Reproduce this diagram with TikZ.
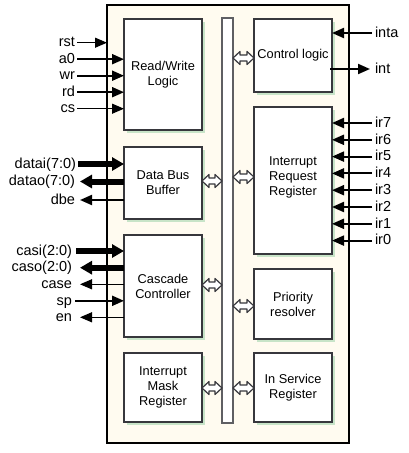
\documentclass[tikz,border=0pt]{standalone}
\usepackage{fontspec}
\setmainfont{Liberation Sans}
\usetikzlibrary{arrows.meta,shadows,calc}
\definecolor{cream}{RGB}{255,251,240}
\definecolor{shgreen}{RGB}{200,228,200}
\definecolor{boxline}{RGB}{55,55,60}
\newcommand{\dblarr}[3]{%
  \draw[busarr] let \p1=(#1 |- 0,#3), \p2=(#2 |- 0,#3) in
    (\x1,\y1) -- (\x1+7pt,\y1+6.5pt) -- (\x1+7pt,\y1+3pt) -- (\x2-7pt,\y1+3pt)
    -- (\x2-7pt,\y1+6.5pt) -- (\x2,\y1) -- (\x2-7pt,\y1-6.5pt) -- (\x2-7pt,\y1-3pt)
    -- (\x1+7pt,\y1-3pt) -- (\x1+7pt,\y1-6.5pt) -- cycle;}
\begin{document}
\begin{tikzpicture}[x=1pt,y=-1pt,
  blk/.style={draw=boxline, line width=1.2pt, fill=white, align=center,
    font=\fontsize{12.8}{15}\selectfont, inner sep=0pt, outer sep=0pt, anchor=north west,
    minimum width=78pt,
    drop shadow={shadow xshift=2.5pt, shadow yshift=-2.5pt, fill=shgreen, opacity=1}},
  lbl/.style={font=\fontsize{14.5}{16}\selectfont, inner sep=0pt, outer sep=0pt,
    text height=8.5pt, text depth=0pt},
  sig/.style={line width=2pt, -{Triangle[length=12pt,width=10pt]}},
  sigthin/.style={line width=1.2pt, -{Triangle[length=12pt,width=10pt]}},
  bussig/.style={line width=6pt, -{Triangle[length=12pt,width=13pt]}},
  busarr/.style={draw=boxline, line width=1.2pt, fill=white, line join=round}]
\useasboundingbox (0,0) rectangle (409,453);

% chip outline
\node[draw=black, line width=1.6pt, fill=cream, minimum width=242pt, minimum height=438pt,
  anchor=north west, inner sep=0pt, outer sep=0pt] (chip) at (107,5) {};

% internal bus
\node[draw=boxline!80, line width=1.1pt, fill=white, minimum width=11pt, minimum height=405pt,
  anchor=north west, inner sep=0pt, outer sep=0pt] (bus) at (222,18) {};

% blocks
\node[blk, minimum height=111pt] (rw)  at (124,19)  {Read/Write\\Logic};
\node[blk, minimum height=72pt]  (dbb) at (124,147) {Data Bus\\Buffer};
\node[blk, minimum height=102pt] (cc)  at (124,235) {Cascade\\Controller};
\node[blk, minimum height=69pt]  (imr) at (124,353) {Interrupt\\Mask\\Register};
\node[blk, minimum height=73pt]  (cl)  at (254,19)  {Control logic};
\node[blk, minimum height=147pt, inner ysep=0pt, text depth=9pt] (irr) at (254,107) {Interrupt\\Request\\Register};
\node[blk, minimum height=70pt]  (pr)  at (254,269) {Priority\\resolver};
\node[blk, minimum height=69pt]  (isr) at (254,353) {In Service\\Register};

% bus arrows
\dblarr{dbb.east}{bus.west}{181}
\dblarr{cc.east}{bus.west}{285}
\dblarr{imr.east}{bus.west}{388}
\dblarr{bus.east}{cl.west}{58}
\dblarr{bus.east}{irr.west}{177}
\dblarr{bus.east}{pr.west}{306}
\dblarr{bus.east}{isr.west}{388}

% left labels
\node[lbl, anchor=east] (rst) at (75,42.7) {rst};
\node[lbl, anchor=east] (a0)  at (75,59.2) {a0};
\node[lbl, anchor=east] (wr)  at (75,75.7) {wr};
\node[lbl, anchor=east] (rd)  at (75,92.2) {rd};
\node[lbl, anchor=east] (cs)  at (75,108.7) {cs};
\node[lbl, anchor=east] (datai) at (76,164) {datai(7:0)};
\node[lbl, anchor=east] (datao) at (75,181.5) {datao(7:0)};
\node[lbl, anchor=east] (dbe)   at (75,200) {dbe};
\node[lbl, anchor=east] (casi)  at (72,251) {casi(2:0)};
\node[lbl, anchor=east] (caso)  at (72,267.7) {caso(2:0)};
\node[lbl, anchor=east] (case)  at (72,284.3) {case};
\node[lbl, anchor=east] (sp)    at (72,300.8) {sp};
\node[lbl, anchor=east] (en)    at (72,317.3) {en};

% left connectors
\draw[sigthin] ([xshift=2pt]rst.east) -- (rst.east -| chip.west);
\draw[sig] ([xshift=2pt]a0.east) -- (a0.east -| rw.west);
\draw[sig] ([xshift=2pt]wr.east) -- (wr.east -| rw.west);
\draw[sig] ([xshift=2pt]rd.east) -- (rd.east -| rw.west);
\draw[sigthin] ([xshift=2pt]cs.east) -- (cs.east -| rw.west);
\draw[bussig] ([xshift=2pt]datai.east) -- (datai.east -| dbb.west);
\draw[bussig] (datao.east -| dbb.west) -- ([xshift=5pt]datao.east);
\draw[sig] (dbe.east -| dbb.west) -- ([xshift=5pt]dbe.east);
\draw[bussig] ([xshift=4pt]casi.east) -- (casi.east -| cc.west);
\draw[bussig] (caso.east -| cc.west) -- ([xshift=8pt]caso.east);
\draw[sigthin] (case.east -| cc.west) -- ([xshift=8pt]case.east);
\draw[sig] ([xshift=3pt]sp.east) -- (sp.east -| cc.west);
\draw[sigthin] (en.east -| cc.west) -- ([xshift=8pt]en.east);

% right labels
\node[lbl, anchor=west] (inta) at (375,33) {inta};
\node[lbl, anchor=west] (int)  at (375,69) {int};
\foreach \n [count=\k from 0] in {7,6,5,4,3,2,1,0}
  \node[lbl, anchor=west] (ir\n) at (375,{123+16.8*\k}) {ir\n};

% right connectors
\draw[sig] ([xshift=-3pt]inta.west) -- (inta.west -| cl.east);
\draw[sig] ($(int.west -| cl.east)+(-2pt,0)$) -- ([xshift=-5pt]int.west);
\foreach \n in {7,6,5,4,3,2,1,0}
  \draw[sig] ([xshift=-3pt]ir\n.west) -- (ir\n.west -| irr.east);
\end{tikzpicture}
\end{document}
